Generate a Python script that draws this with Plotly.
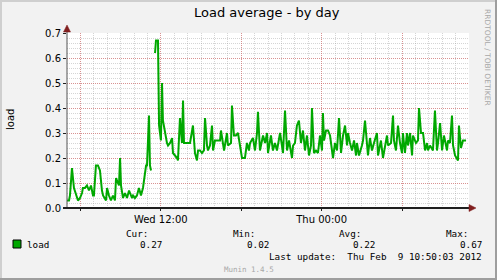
import plotly.graph_objects as go

# ---- data (hours since Wed 05:00, load average) ----
hours = [0.00, 0.15, 0.22, 0.37, 0.52, 0.67, 0.82, 0.97, 1.12, 1.19, 1.34, 1.49, 1.64, 1.79, 1.94,
         2.01, 2.16, 2.31, 2.46, 2.61, 2.69, 2.91, 2.99, 3.13, 3.28, 3.43, 3.58, 3.66, 3.73, 3.88,
         3.96, 4.03, 4.18, 4.33, 4.48, 4.63, 4.85, 4.93, 5.07, 5.22, 5.37, 5.52, 5.67, 5.75, 5.90,
         5.97, 6.12, 6.19, 6.27, 6.38,
         6.57, 6.64, 6.79, 6.83, 6.87, 7.01, 7.09, 7.16, 7.31, 7.46, 7.54, 7.69, 7.84, 7.91, 8.06,
         8.21, 8.28, 8.43, 8.58, 8.66, 8.73, 8.96, 9.18, 9.40, 9.55, 9.70, 9.78, 9.93, 10.07, 10.22,
         10.30, 10.45, 10.52, 10.67, 10.82, 10.90, 11.04, 11.19, 11.42, 11.49, 11.64, 11.72, 11.94,
         12.01, 12.24, 12.31, 12.46, 12.61, 12.76, 12.91, 13.06, 13.28, 13.43, 13.58, 13.66, 13.88,
         14.03, 14.18, 14.25, 14.40, 14.63, 14.78, 14.93, 15.00, 15.22, 15.37, 15.52, 15.67, 15.90,
         16.04, 16.12, 16.27, 16.42, 16.57, 16.79, 16.87, 17.01, 17.16, 17.31, 17.46, 17.61, 17.76,
         17.91, 18.06, 18.21, 18.28, 18.43, 18.58, 18.73, 18.88, 19.03, 19.10, 19.18, 19.33, 19.48,
         19.63, 19.78, 19.85, 20.00, 20.15, 20.30, 20.45, 20.60, 20.75, 20.90, 20.97, 21.12, 21.27,
         21.42, 21.57, 21.64, 21.79, 22.01, 22.09, 22.24, 22.39, 22.46, 22.61, 22.76, 22.91, 23.13,
         23.21, 23.43, 23.58, 23.73, 23.88, 23.96, 24.18, 24.33, 24.40, 24.55, 24.70, 24.85, 25.00,
         25.07, 25.22, 25.37, 25.45, 25.60, 25.75, 25.82, 26.04, 26.19, 26.27, 26.42, 26.57, 26.72,
         26.87, 26.94, 27.09, 27.31, 27.46, 27.61, 27.69, 27.84, 27.99, 28.13, 28.36, 28.43, 28.58,
         28.73, 28.81, 28.96, 29.10, 29.18, 29.25, 29.40, 29.55, 29.70, 29.78]

load = [0.03, 0.03, 0.05, 0.16, 0.08, 0.05, 0.03, 0.04, 0.06, 0.08, 0.08, 0.09, 0.07, 0.09, 0.05,
        0.05, 0.17, 0.17, 0.15, 0.07, 0.05, 0.03, 0.08, 0.05, 0.03, 0.05, 0.03, 0.12, 0.11, 0.09,
        0.20, 0.09, 0.04, 0.06, 0.04, 0.07, 0.04, 0.05, 0.04, 0.05, 0.08, 0.05, 0.08, 0.12, 0.17,
        0.17, 0.37, 0.17, 0.15, None,
        0.62, 0.67, 0.67, 0.42, 0.33, 0.27, 0.50, 0.35, 0.30, 0.26, 0.25, 0.26, 0.28, 0.22, 0.21,
        0.20, 0.19, 0.36, 0.26, 0.43, 0.26, 0.26, 0.26, 0.33, 0.22, 0.19, 0.23, 0.23, 0.22, 0.23,
        0.36, 0.25, 0.23, 0.25, 0.33, 0.23, 0.27, 0.27, 0.27, 0.31, 0.26, 0.23, 0.30,
        0.25, 0.26, 0.41, 0.29, 0.29, 0.30, 0.25, 0.20, 0.20, 0.26, 0.23, 0.26, 0.28,
        0.23, 0.30, 0.385, 0.23, 0.29, 0.26, 0.30, 0.22, 0.29, 0.23, 0.26, 0.23, 0.30,
        0.25, 0.22, 0.39, 0.23, 0.27, 0.20, 0.25, 0.26, 0.33, 0.35, 0.26, 0.31, 0.23,
        0.29, 0.21, 0.25, 0.40, 0.22, 0.23, 0.22, 0.29, 0.23, 0.38, 0.27, 0.31, 0.31,
        0.29, 0.22, 0.20, 0.26, 0.23, 0.36, 0.22, 0.29, 0.33, 0.25, 0.30, 0.26, 0.23,
        0.27, 0.21, 0.26, 0.21, 0.25, 0.27, 0.35, 0.25, 0.21, 0.28, 0.23, 0.26, 0.30,
        0.21, 0.27, 0.20, 0.25, 0.29, 0.25, 0.26, 0.37, 0.27, 0.23, 0.33, 0.26, 0.22,
        0.30, 0.22, 0.30, 0.25, 0.30, 0.21, 0.29, 0.26, 0.27, 0.40, 0.30, 0.30, 0.23,
        0.26, 0.23, 0.25, 0.23, 0.39, 0.23, 0.26, 0.34, 0.23, 0.29, 0.23, 0.27, 0.26,
        0.37, 0.25, 0.21, 0.20, 0.19, 0.33, 0.24, 0.27, 0.27, 0.27]

x_tick_hours = [1, 7, 13, 19, 25]
x_tick_labels = ["", "Wed 12:00", "", "Thu 00:00", ""]
y_tick_values = [0.0, 0.1, 0.2, 0.3, 0.4, 0.5, 0.6, 0.7]

series_name = "load"
stat_names = ["Cur:", "Min:", "Avg:", "Max:"]
stat_values = ["0.27", "0.02", "0.22", "0.67"]
last_update = "Last update:\u00a0\u00a0Thu Feb\u00a0\u00a09 10:50:03 2012"
title_text = "Load average - by day"
watermark = "RRDTOOL / TOBI OETIKER"
footer = "Munin 1.4.5"

# ---- styles ----
W, H = 497, 280
L, R, T, B = 67, 28, 33, 72
PW, PH = W - L - R, H - T - B
GREEN = "#00A800"
BACK = "#F2F2F2"
SHADEA = "#CFCFCF"
SHADEB = "#9E9E9E"
GRID = "rgba(150,150,150,0.4)"
MGRID = "rgba(222,79,79,0.5)"
ARROW = "#801F1F"
AXIS = "#1F1F1F"
SANS = "DejaVu Sans"
MONO = "DejaVu Sans Mono"


def px(x):
    return (x - L) / PW


def py(y):
    return (H - B - y) / PH


fig = go.Figure()
fig.add_trace(go.Scatter(x=hours, y=load, mode="lines", connectgaps=False,
                         line=dict(color=GREEN, width=2), showlegend=False,
                         hoverinfo="skip"))

dot = "1px,1px"
fig.update_layout(
    width=W, height=H, margin=dict(l=L, r=R, t=T, b=B, pad=0),
    paper_bgcolor=BACK, plot_bgcolor="#FFFFFF",
    xaxis=dict(range=[0, 30], tickmode="array", tickvals=x_tick_hours, ticktext=x_tick_labels,
               showgrid=True, gridcolor=MGRID, gridwidth=1, griddash=dot,
               minor=dict(tick0=0, dtick=1, showgrid=True, gridcolor=GRID, gridwidth=1, griddash=dot),
               zeroline=False, showline=False, ticks="outside", ticklen=2, tickcolor=AXIS,
               tickfont=dict(family=SANS, size=10, color="black"), fixedrange=True),
    yaxis=dict(range=[0, 0.7], tickmode="array", tickvals=y_tick_values, tickformat=".1f",
               showgrid=True, gridcolor=MGRID, gridwidth=1, griddash=dot,
               minor=dict(tick0=0, dtick=0.02, showgrid=True, gridcolor=GRID, gridwidth=1, griddash=dot),
               zeroline=False, showline=False, ticks="outside", ticklen=3, tickcolor=AXIS,
               tickfont=dict(family=SANS, size=10, color="black"), fixedrange=True),
)

shapes = []
# frame (3D border)
shapes.append(dict(type="rect", xref="paper", yref="paper", x0=px(0), x1=px(W), y0=py(0), y1=py(2),
                   fillcolor=SHADEA, line=dict(width=0), layer="above"))
shapes.append(dict(type="rect", xref="paper", yref="paper", x0=px(0), x1=px(2), y0=py(0), y1=py(H),
                   fillcolor=SHADEA, line=dict(width=0), layer="above"))
shapes.append(dict(type="rect", xref="paper", yref="paper", x0=px(0), x1=px(W), y0=py(H - 2), y1=py(H),
                   fillcolor=SHADEB, line=dict(width=0), layer="above"))
shapes.append(dict(type="rect", xref="paper", yref="paper", x0=px(W - 2), x1=px(W), y0=py(0), y1=py(H),
                   fillcolor=SHADEB, line=dict(width=0), layer="above"))
# axes
shapes.append(dict(type="line", xref="paper", yref="paper", x0=0, x1=0, y0=0, y1=py(29),
                   line=dict(color="#555555", width=1), layer="above"))
shapes.append(dict(type="line", xref="paper", yref="paper", x0=px(63), x1=px(469), y0=0, y1=0,
                   line=dict(color=AXIS, width=2), layer="above"))
shapes.append(dict(type="path", xref="paper", yref="paper",
                   path="M {} {} L {} {} L {} {} Z".format(px(63.5), py(32), px(70.5), py(32), px(67), py(25)),
                   fillcolor=ARROW, line=dict(color=ARROW, width=0.5), layer="above"))
shapes.append(dict(type="path", xref="paper", yref="paper",
                   path="M {} {} L {} {} L {} {} Z".format(px(469), py(204.5), px(469), py(211.5), px(476), py(208)),
                   fillcolor=ARROW, line=dict(color=ARROW, width=0.5), layer="above"))
# legend swatch
shapes.append(dict(type="rect", xref="paper", yref="paper", x0=px(13), x1=px(21), y0=py(248), y1=py(240),
                   fillcolor=GREEN, line=dict(color="black", width=1), layer="above"))
fig.update_layout(shapes=shapes)

ann = []


def text(t, x, y, anchor="left", family=MONO, size=9.3, color="black", angle=0):
    ann.append(dict(text=t, x=px(x), y=py(y), xref="paper", yref="paper", showarrow=False,
                    xanchor=anchor, yanchor="middle", textangle=angle,
                    font=dict(family=family, size=size, color=color), borderpad=0))


text(title_text, 267, 13, anchor="center", family=SANS, size=13)
text("load", 10, 120, anchor="center", family=SANS, size=10, angle=-90)
text(watermark, 488, 57, anchor="center", family=SANS, size=7.5, color="#A8A8A8", angle=90)
text(series_name, 26, 244)
stat_name_right = [149, 256, 362, 469]
stat_value_right = [163, 270, 376, 483]
for n, v, xn, xv in zip(stat_names, stat_values, stat_name_right, stat_value_right):
    text(n, xn, 233, anchor="right")
    text(v, xv, 244, anchor="right")
text(last_update, 483, 256, anchor="right")
text(footer, 249, 269, anchor="center", size=7.5, color="#A8A8A8")
fig.update_layout(annotations=ann)

fig.write_html("out.html")
